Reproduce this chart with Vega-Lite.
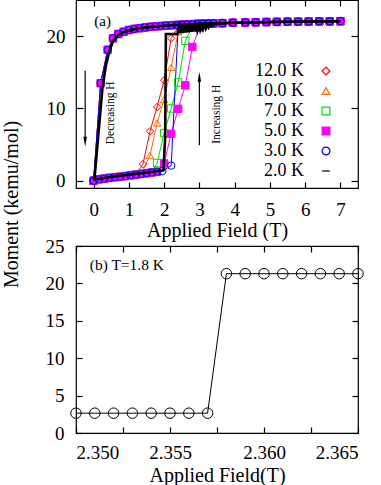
{
  "$schema": "https://vega.github.io/schema/vega-lite/v6.json",
  "padding": {"top": -2, "left": 0, "right": 0, "bottom": 0},
  "autosize": {"type": "pad"},
  "background": "white",
  "config": {
    "font": "Liberation Serif",
    "view": {"stroke": "black", "strokeWidth": 1.2},
    "axis": {
      "grid": false, "domain": false, "tickColor": "black", "labelColor": "black", "titleColor": "black",
      "labelFont": "Liberation Serif", "titleFont": "Liberation Serif", "labelFontSize": 19, "titleFontSize": 20,
      "titleFontWeight": "normal", "tickSize": -6, "tickWidth": 1.2, "labelPadding": 18
    },
    "legend": {"labelFont": "Liberation Serif"},
    "text": {"font": "Liberation Serif"}
  },
  "spacing": 58,
  "bounds": "flush",
  "datasets": {
    "loops": [
      {"b": "d", "x": 0, "y": 0.0, "K": [12, 10, 7, 5, 3]},
      {"b": "d", "x": 0.2, "y": 13.5, "K": [12, 10, 7, 5, 3]},
      {"b": "d", "x": 0.4, "y": 18.1, "K": [12, 10, 7, 5, 3]},
      {"b": "d", "x": 0.55, "y": 19.7, "K": [12, 10, 7, 5, 3]},
      {"b": "d", "x": 0.7, "y": 20.3, "K": [12, 10, 7, 5, 3]},
      {"b": "d", "x": 0.85, "y": 20.6, "K": [12, 10, 7, 5, 3]},
      {"b": "d", "x": 1.0, "y": 20.85, "K": [12, 10, 7, 5, 3]},
      {"b": "d", "x": 1.15, "y": 21.0, "K": [12, 10, 7, 5, 3]},
      {"b": "d", "x": 1.3, "y": 21.1, "K": [12, 10, 7, 5, 3]},
      {"b": "d", "x": 1.45, "y": 21.2, "K": [12, 10, 7, 5, 3]},
      {"b": "d", "x": 1.6, "y": 21.28, "K": [12, 10, 7, 5, 3]},
      {"b": "d", "x": 1.75, "y": 21.35, "K": [12, 10, 7, 5, 3]},
      {"b": "d", "x": 1.9, "y": 21.4, "K": [12, 10, 7, 5, 3]},
      {"b": "d", "x": 2.05, "y": 21.45, "K": [12, 10, 7, 5, 3]},
      {"b": "d", "x": 2.2, "y": 21.5, "K": [12, 10, 7, 5, 3]},
      {"b": "d", "x": 2.35, "y": 21.55, "K": [12, 10, 7, 5, 3]},
      {"b": "d", "x": 2.5, "y": 21.6, "K": [12, 10, 7, 5, 3]},
      {"b": "d", "x": 2.65, "y": 21.63, "K": [12, 10, 7, 5, 3]},
      {"b": "d", "x": 2.8, "y": 21.66, "K": [12, 10, 7, 5, 3]},
      {"b": "d", "x": 2.95, "y": 21.7, "K": [12, 10, 7, 5, 3]},
      {"b": "d", "x": 3.1, "y": 21.72, "K": [12, 10, 7, 5, 3]},
      {"b": "d", "x": 3.25, "y": 21.75, "K": [12, 10, 7, 5, 3]},
      {"b": "d", "x": 3.4, "y": 21.77, "K": [12, 10, 7, 5, 3]},
      {"b": "d", "x": 3.65, "y": 21.8, "K": [12, 10, 7, 5, 3]},
      {"b": "d", "x": 3.95, "y": 21.85, "K": [12, 10, 7, 5, 3]},
      {"b": "d", "x": 4.3, "y": 21.9, "K": [12, 10, 7, 5, 3]},
      {"b": "d", "x": 4.6, "y": 21.92, "K": [12, 10, 7, 5, 3]},
      {"b": "d", "x": 4.9, "y": 21.95, "K": [12, 10, 7, 5, 3]},
      {"b": "d", "x": 5.2, "y": 21.97, "K": [12, 10, 7, 5, 3]},
      {"b": "d", "x": 5.5, "y": 22.0, "K": [12, 10, 7, 5, 3]},
      {"b": "d", "x": 5.8, "y": 22.0, "K": [12, 10, 7, 5, 3]},
      {"b": "d", "x": 6.1, "y": 22.02, "K": [12, 10, 7, 5, 3]},
      {"b": "d", "x": 6.4, "y": 22.05, "K": [12, 10, 7, 5, 3]},
      {"b": "d", "x": 6.7, "y": 22.05, "K": [12, 10, 7, 5, 3]},
      {"b": "d", "x": 7.0, "y": 22.07, "K": [12, 10, 7, 5, 3]},
      {"b": "u", "x": 0, "y": 0.0, "K": [12, 10, 7, 5, 3]},
      {"b": "u", "x": 0.15, "y": 0.2, "K": [12, 10, 7, 5, 3]},
      {"b": "u", "x": 0.3, "y": 0.3, "K": [12, 10, 7, 5, 3]},
      {"b": "u", "x": 0.45, "y": 0.4, "K": [12, 10, 7, 5, 3]},
      {"b": "u", "x": 0.6, "y": 0.5, "K": [12, 10, 7, 5, 3]},
      {"b": "u", "x": 0.75, "y": 0.55, "K": [12, 10, 7, 5, 3]},
      {"b": "u", "x": 0.9, "y": 0.65, "K": [12, 10, 7, 5, 3]},
      {"b": "u", "x": 1.05, "y": 0.75, "K": [12, 10, 7, 5, 3]},
      {"b": "u", "x": 1.2, "y": 0.85, "K": [12, 10, 7, 5, 3]},
      {"b": "u", "x": 1.35, "y": 0.95, "K": [10, 7, 5, 3]},
      {"b": "u", "x": 1.5, "y": 1.05, "K": [7, 5, 3]},
      {"b": "u", "x": 1.65, "y": 1.15, "K": [7, 5, 3]},
      {"b": "u", "x": 1.8, "y": 1.25, "K": [5, 3]},
      {"b": "u", "x": 1.95, "y": 1.35, "K": [3]},
      {"b": "u", "x": 1.4, "y": 2.3, "K": [12]},
      {"b": "u", "x": 1.6, "y": 6.85, "K": [12]},
      {"b": "u", "x": 1.8, "y": 10.2, "K": [12]},
      {"b": "u", "x": 2.0, "y": 13.9, "K": [12]},
      {"b": "u", "x": 2.2, "y": 19.7, "K": [12]},
      {"b": "u", "x": 2.4, "y": 21.3, "K": [12]},
      {"b": "u", "x": 1.6, "y": 3.5, "K": [10]},
      {"b": "u", "x": 1.8, "y": 8.0, "K": [10]},
      {"b": "u", "x": 2.0, "y": 11.25, "K": [10]},
      {"b": "u", "x": 2.2, "y": 15.7, "K": [10]},
      {"b": "u", "x": 2.4, "y": 20.6, "K": [10]},
      {"b": "u", "x": 1.8, "y": 2.45, "K": [7]},
      {"b": "u", "x": 2.0, "y": 6.6, "K": [7]},
      {"b": "u", "x": 2.2, "y": 10.0, "K": [7]},
      {"b": "u", "x": 2.4, "y": 13.6, "K": [7]},
      {"b": "u", "x": 2.6, "y": 19.35, "K": [7]},
      {"b": "u", "x": 2.8, "y": 21.3, "K": [7]},
      {"b": "u", "x": 2.0, "y": 2.4, "K": [5]},
      {"b": "u", "x": 2.2, "y": 6.5, "K": [5]},
      {"b": "u", "x": 2.4, "y": 9.95, "K": [5]},
      {"b": "u", "x": 2.6, "y": 13.2, "K": [5]},
      {"b": "u", "x": 2.8, "y": 18.5, "K": [5]},
      {"b": "u", "x": 3.0, "y": 21.2, "K": [5]},
      {"b": "u", "x": 2.2, "y": 2.1, "K": [3]},
      {"b": "u", "x": 2.4, "y": 21.5, "K": [3]},
      {"b": "u", "x": 2.5, "y": 21.6, "K": [12, 10, 3]},
      {"b": "u", "x": 2.65, "y": 21.63, "K": [12, 10, 3]},
      {"b": "u", "x": 2.8, "y": 21.66, "K": [12, 10, 3]},
      {"b": "u", "x": 2.95, "y": 21.7, "K": [12, 10, 7, 3]},
      {"b": "u", "x": 3.1, "y": 21.72, "K": [12, 10, 7, 5, 3]},
      {"b": "u", "x": 3.25, "y": 21.75, "K": [12, 10, 7, 5, 3]},
      {"b": "u", "x": 3.4, "y": 21.77, "K": [12, 10, 7, 5, 3]},
      {"b": "u", "x": 3.65, "y": 21.8, "K": [12, 10, 7, 5, 3]},
      {"b": "u", "x": 3.95, "y": 21.85, "K": [12, 10, 7, 5, 3]},
      {"b": "u", "x": 4.3, "y": 21.9, "K": [12, 10, 7, 5, 3]},
      {"b": "u", "x": 4.6, "y": 21.92, "K": [12, 10, 7, 5, 3]},
      {"b": "u", "x": 4.9, "y": 21.95, "K": [12, 10, 7, 5, 3]},
      {"b": "u", "x": 5.2, "y": 21.97, "K": [12, 10, 7, 5, 3]},
      {"b": "u", "x": 5.5, "y": 22.0, "K": [12, 10, 7, 5, 3]},
      {"b": "u", "x": 5.8, "y": 22.0, "K": [12, 10, 7, 5, 3]},
      {"b": "u", "x": 6.1, "y": 22.02, "K": [12, 10, 7, 5, 3]},
      {"b": "u", "x": 6.4, "y": 22.05, "K": [12, 10, 7, 5, 3]},
      {"b": "u", "x": 6.7, "y": 22.05, "K": [12, 10, 7, 5, 3]},
      {"b": "u", "x": 7.0, "y": 22.07, "K": [12, 10, 7, 5, 3]}
    ],
    "k2": [
      {"b": "u", "x": 0.0, "y": 0.15}, {"b": "u", "x": 0.5, "y": 0.55}, {"b": "u", "x": 1.0, "y": 0.85},
      {"b": "u", "x": 1.5, "y": 1.15}, {"b": "u", "x": 1.98, "y": 1.45}, {"b": "u", "x": 2.03, "y": 6.0},
      {"b": "u", "x": 2.05, "y": 20.3}, {"b": "u", "x": 2.38, "y": 20.3}, {"b": "u", "x": 2.42, "y": 21.3},
      {"b": "u", "x": 2.46, "y": 20.4}, {"b": "u", "x": 2.5, "y": 21.35}, {"b": "u", "x": 2.54, "y": 20.45},
      {"b": "u", "x": 2.58, "y": 21.35}, {"b": "u", "x": 2.62, "y": 20.5}, {"b": "u", "x": 2.66, "y": 21.4},
      {"b": "u", "x": 2.7, "y": 20.55}, {"b": "u", "x": 2.74, "y": 21.4}, {"b": "u", "x": 2.78, "y": 20.6},
      {"b": "u", "x": 2.82, "y": 21.45}, {"b": "u", "x": 2.86, "y": 20.65}, {"b": "u", "x": 2.9, "y": 21.45},
      {"b": "u", "x": 2.94, "y": 20.75}, {"b": "u", "x": 2.98, "y": 21.5}, {"b": "u", "x": 3.02, "y": 20.85},
      {"b": "u", "x": 3.06, "y": 21.5}, {"b": "u", "x": 3.1, "y": 20.95}, {"b": "u", "x": 3.14, "y": 21.55},
      {"b": "u", "x": 3.18, "y": 21.05}, {"b": "u", "x": 3.22, "y": 21.55}, {"b": "u", "x": 3.26, "y": 21.2},
      {"b": "u", "x": 3.3, "y": 21.6}, {"b": "u", "x": 3.34, "y": 21.35}, {"b": "u", "x": 3.4, "y": 21.65},
      {"b": "u", "x": 3.6, "y": 21.75}, {"b": "u", "x": 4.0, "y": 21.85}, {"b": "u", "x": 5.0, "y": 21.95},
      {"b": "u", "x": 6.0, "y": 22.02}, {"b": "u", "x": 7.0, "y": 22.07},
      {"b": "d", "x": 0.0, "y": 0.15}, {"b": "d", "x": 0.03, "y": 0.6}, {"b": "d", "x": 0.25, "y": 12.8},
      {"b": "d", "x": 0.35, "y": 16.0}, {"b": "d", "x": 0.45, "y": 18.0}, {"b": "d", "x": 0.55, "y": 19.3},
      {"b": "d", "x": 0.7, "y": 20.2}, {"b": "d", "x": 0.85, "y": 20.55}, {"b": "d", "x": 1.0, "y": 20.8},
      {"b": "d", "x": 1.3, "y": 21.1}, {"b": "d", "x": 1.6, "y": 21.28}, {"b": "d", "x": 2.0, "y": 21.43},
      {"b": "d", "x": 2.5, "y": 21.6}, {"b": "d", "x": 3.0, "y": 21.7}, {"b": "d", "x": 4.0, "y": 21.85},
      {"b": "d", "x": 5.0, "y": 21.95}, {"b": "d", "x": 6.0, "y": 22.02}, {"b": "d", "x": 7.0, "y": 22.07}
    ],
    "panelb": [
      {"x": 2.350, "y": 2.65}, {"x": 2.351, "y": 2.65}, {"x": 2.352, "y": 2.65}, {"x": 2.353, "y": 2.65},
      {"x": 2.354, "y": 2.65}, {"x": 2.355, "y": 2.65}, {"x": 2.356, "y": 2.65}, {"x": 2.357, "y": 2.65},
      {"x": 2.358, "y": 21.3}, {"x": 2.359, "y": 21.3}, {"x": 2.360, "y": 21.3}, {"x": 2.361, "y": 21.3},
      {"x": 2.362, "y": 21.3}, {"x": 2.363, "y": 21.3}, {"x": 2.364, "y": 21.3}, {"x": 2.365, "y": 21.3}
    ],
    "one": [{}]
  },
  "vconcat": [
    {
      "width": 282,
      "height": 188,
      "resolve": {"axis": {"x": "independent", "y": "independent"}},
      "layer": [
        {
          "data": {"name": "loops"},
          "transform": [{"flatten": ["K"]}],
          "mark": {"type": "line", "strokeWidth": 1},
          "encoding": {
            "x": {"field": "x", "type": "quantitative", "scale": {"domain": [-0.5, 7.5], "nice": false, "zero": false},
                  "axis": {"values": [0, 1, 2, 3, 4, 5, 6, 7], "title": "Applied Field (T)", "labelPadding": 18, "titlePadding": 1,
                           "labelFont": "Liberation Serif", "labelFontSize": 19, "titleFont": "Liberation Serif", "titleFontSize": 20, "tickSize": -6}},
            "y": {"field": "y", "type": "quantitative", "scale": {"domain": [-1, 25], "nice": false, "zero": false},
                  "axis": {"values": [0, 10, 20], "title": "Moment (kemu/mol)", "titleY": 204, "titlePadding": 25, "labelPadding": 18,
                           "labelFont": "Liberation Serif", "labelFontSize": 19, "titleFont": "Liberation Serif", "titleFontSize": 20, "tickSize": -7}},
            "color": {"field": "K", "type": "nominal",
                      "scale": {"domain": [12, 10, 7, 5, 3, 2], "range": ["#ff0000", "#ff6a00", "#00dd00", "#ff00ff", "#0000ff", "#000000"]},
                      "legend": {"orient": "none", "legendX": 241, "legendY": 62, "title": null, "labelAlign": "right", "labelOffset": -31,
                                 "labelFontSize": 18, "labelFont": "Liberation Serif", "symbolSize": 60, "symbolStrokeWidth": 1.2, "rowPadding": 2, "padding": 0,
                                 "labelExpr": "format(datum.value, '.1f') + ' K'"}},
            "detail": {"field": "b"}
          }
        },
        {
          "data": {"name": "loops"},
          "transform": [{"flatten": ["K"]}],
          "mark": {"type": "point", "size": 55, "strokeWidth": 1, "opacity": 1},
          "encoding": {
            "x": {"field": "x", "type": "quantitative", "axis": null},
            "y": {"field": "y", "type": "quantitative", "axis": null},
            "color": {"field": "K", "type": "nominal"},
            "fill": {"field": "K", "type": "nominal",
                     "scale": {"domain": [12, 10, 7, 5, 3, 2], "range": ["transparent", "transparent", "transparent", "#ff00ff", "transparent", "transparent"]}},
            "shape": {"field": "K", "type": "nominal",
                      "scale": {"domain": [12, 10, 7, 5, 3, 2], "range": ["diamond", "triangle-up", "square", "square", "circle", "stroke"]}},
            "order": {"field": "K", "type": "quantitative", "sort": "descending"}
          }
        },
        {
          "data": {"name": "k2"},
          "mark": {"type": "line", "strokeWidth": 2.6, "color": "black"},
          "encoding": {
            "x": {"field": "x", "type": "quantitative", "axis": null},
            "y": {"field": "y", "type": "quantitative", "axis": null},
            "detail": {"field": "b"}
          }
        },
        {
          "data": {"name": "one"},
          "mark": {"type": "text", "text": "(a)", "fontSize": 15, "align": "left", "baseline": "middle", "font": "Liberation Serif"},
          "encoding": {"x": {"datum": 0.02, "axis": null}, "y": {"datum": 22.1, "axis": null}}
        },
        {
          "data": {"name": "one"},
          "mark": {"type": "text", "text": "Decreasing H", "fontSize": 11.5, "angle": 270, "align": "center", "baseline": "middle", "font": "Liberation Serif"},
          "encoding": {"x": {"datum": 0.5, "axis": null}, "y": {"datum": 9.4, "axis": null}}
        },
        {
          "data": {"name": "one"},
          "mark": {"type": "text", "text": "Increasing H", "fontSize": 11.5, "angle": 270, "align": "center", "baseline": "middle", "font": "Liberation Serif"},
          "encoding": {"x": {"datum": 3.5, "axis": null}, "y": {"datum": 9.2, "axis": null}}
        },
        {
          "data": {"name": "one"},
          "mark": {"type": "rule", "color": "black", "strokeWidth": 1.2},
          "encoding": {"x": {"datum": -0.24, "axis": null}, "y": {"datum": 15.2, "axis": null}, "y2": {"datum": 5.4}}
        },
        {
          "data": {"name": "one"},
          "mark": {"type": "point", "shape": "M-0.35,-1L0,1L0.35,-1Z", "filled": true, "color": "black", "size": 100, "opacity": 1},
          "encoding": {"x": {"datum": -0.24, "axis": null}, "y": {"datum": 5.4, "axis": null}}
        },
        {
          "data": {"name": "one"},
          "mark": {"type": "point", "shape": "M-0.35,1L0,-1L0.35,1Z", "filled": true, "color": "black", "size": 100, "opacity": 1},
          "encoding": {"x": {"datum": 3.0, "axis": null}, "y": {"datum": 14.4, "axis": null}}
        },
        {
          "data": {"name": "one"},
          "mark": {"type": "rule", "color": "black", "strokeWidth": 1.2},
          "encoding": {
            "x": {"datum": 3.0, "axis": {"orient": "top", "values": [0, 1, 2, 3, 4, 5, 6, 7], "labels": false, "title": null, "tickSize": -6}},
            "y": {"datum": 4.9, "axis": {"orient": "right", "values": [0, 10, 20], "labels": false, "title": null, "tickSize": -7}},
            "y2": {"datum": 14.4}
          }
        }
      ]
    },
    {
      "width": 282,
      "height": 187,
      "resolve": {"axis": {"x": "independent", "y": "independent"}},
      "layer": [
        {
          "data": {"name": "panelb"},
          "mark": {"type": "line", "color": "black", "strokeWidth": 1},
          "encoding": {
            "x": {"field": "x", "type": "quantitative", "scale": {"domain": [2.35, 2.365], "nice": false, "zero": false},
                  "axis": {"values": [2.35, 2.3525, 2.355, 2.3575, 2.36, 2.3625, 2.365], "title": "Applied Field(T)",
                           "labelExpr": "round(datum.value*10000) % 50 == 0 ? format(datum.value, '.3f') : ''",
                           "labelPadding": 16, "titlePadding": 3, "labelFont": "Liberation Serif", "labelFontSize": 19,
                           "titleFont": "Liberation Serif", "titleFontSize": 20, "tickSize": -6}},
            "y": {"field": "y", "type": "quantitative", "scale": {"domain": [0, 25], "nice": false},
                  "axis": {"values": [0, 5, 10, 15, 20, 25], "title": null, "labelPadding": 18, "labelFont": "Liberation Serif",
                           "labelFontSize": 19, "tickSize": -6}}
          }
        },
        {
          "data": {"name": "panelb"},
          "mark": {"type": "point", "color": "black", "size": 110, "strokeWidth": 1, "opacity": 1},
          "encoding": {
            "x": {"field": "x", "type": "quantitative", "axis": null},
            "y": {"field": "y", "type": "quantitative", "axis": null}
          }
        },
        {
          "data": {"name": "one"},
          "mark": {"type": "text", "text": "(b) T=1.8 K", "fontSize": 15.5, "align": "left", "baseline": "middle", "font": "Liberation Serif"},
          "encoding": {
            "x": {"datum": 2.35073, "axis": {"orient": "top", "values": [2.35, 2.3525, 2.355, 2.3575, 2.36, 2.3625, 2.365], "labels": false, "title": null, "tickSize": -6}},
            "y": {"datum": 22.4, "axis": {"orient": "right", "values": [0, 5, 10, 15, 20, 25], "labels": false, "title": null, "tickSize": -6}}
          }
        }
      ]
    }
  ]
}
